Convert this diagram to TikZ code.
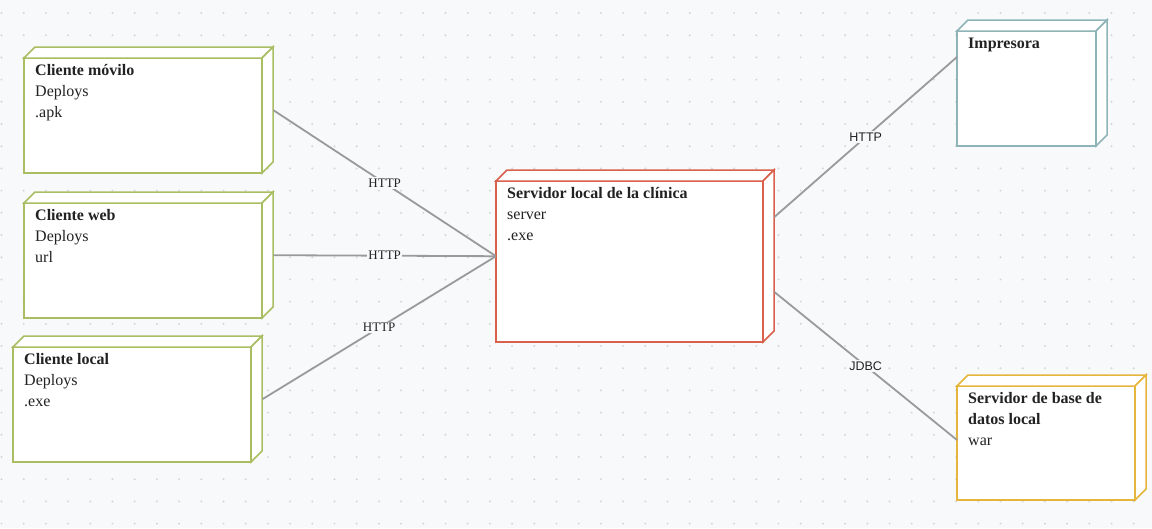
\documentclass[tikz,border=0pt]{standalone}
\usepackage{fontspec}
\setmainfont{Liberation Serif}
\newfontfamily\labsans{Liberation Sans}
\definecolor{bgc}{HTML}{F8F9FA}
\definecolor{dotc}{HTML}{D4D6D8}
\definecolor{greenc}{HTML}{A9BE63}
\definecolor{redc}{HTML}{D9604C}
\definecolor{tealc}{HTML}{8FB4B8}
\definecolor{goldc}{HTML}{E6B53C}
\definecolor{linec}{HTML}{9A9A9A}
\definecolor{txtc}{HTML}{222222}
\tikzset{
  boxshape/.style={inner sep=0pt, draw=none, anchor=north west},
  boxline/.style={draw=#1, line width=1.5pt, fill=white, line join=miter},
  boxtext/.style={anchor=north west, inner sep=0pt, align=left, text=txtc,
    font=\fontsize{16}{21}\selectfont},
  conn/.style={draw=linec, line width=1.8pt},
  lbl/.style={midway, fill=bgc, inner sep=1.5pt, text=txtc, font=\fontsize{13}{15}\selectfont},
  lbls/.style={midway, fill=bgc, inner sep=1.5pt, text=txtc, font=\labsans\fontsize{12.5}{15}\selectfont},
}
% #1 name, #2 left, #3 back top, #4 total width, #5 total height, #6 colour, #7 text
\newcommand\dnode[7]{%
  \node[boxshape, minimum width=#4pt, minimum height=#5pt] (#1) at (#2,#3) {};
  \draw[boxline=#6] (#2,{#3+11}) rectangle ({#2+#4-11},{#3+#5});
  \draw[boxline=#6] (#2,{#3+11}) -- ({#2+11},#3) -- ({#2+#4},#3) -- ({#2+#4-11},{#3+11}) -- cycle;
  \draw[boxline=#6] ({#2+#4-11},{#3+11}) -- ({#2+#4},#3) -- ({#2+#4},{#3+#5-11}) -- ({#2+#4-11},{#3+#5}) -- cycle;
  \node[boxtext] (#1-txt) at ({#2+11},{#3+11+5}) {\rule{0pt}{12pt}#7};
}
\begin{document}
\begin{tikzpicture}[x=1pt,y=-1pt]
\fill[bgc] (0,0) rectangle (1152,528);
\useasboundingbox (0,0) rectangle (1152,528);
\foreach \i in {0,...,51} {\foreach \j in {0,...,23} {\fill[dotc] ({1.5+22.2*\i},{13+22.2*\j}) circle (1.1);}}

\dnode{movil}{24}{47}{249}{126}{greenc}{\textbf{Cliente móvilo}\\Deploys\\.apk}
\dnode{web}{24}{192}{249}{126}{greenc}{\textbf{Cliente web}\\Deploys\\url}
\dnode{local}{13}{336}{249}{126}{greenc}{\textbf{Cliente local}\\Deploys\\.exe}
\dnode{srv}{496}{170}{278}{172}{redc}{\textbf{Servidor local de la clínica}\\server\\.exe}
\dnode{imp}{957}{20}{150}{126}{tealc}{\textbf{Impresora}}
\dnode{bd}{957}{375}{189}{125}{goldc}{\textbf{Servidor de base de}\\\textbf{datos local}\\war}

\draw[conn] (movil.east) -- node[lbl]{HTTP} (srv.west);
\draw[conn] (web.east) -- node[lbl]{HTTP} (srv.west);
\draw[conn] (local.east) -- node[lbl]{HTTP} (srv.west);
\draw[conn] ([yshift=-47pt]srv.north east) -- node[lbls]{HTTP} ([yshift=-37pt]imp.north west);
\draw[conn] ([yshift=-122pt]srv.north east) -- node[lbls]{JDBC} ([yshift=-65pt]bd.north west);
\end{tikzpicture}
\end{document}
